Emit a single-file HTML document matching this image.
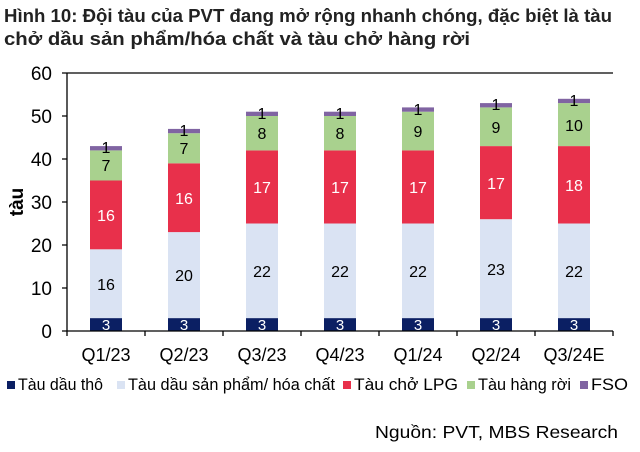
<!DOCTYPE html><html><head><meta charset="utf-8"><style>body{margin:0;background:#fff}svg{display:block;font-family:"Liberation Sans",Arial,sans-serif}</style></head><body>
<svg width="640" height="452" xmlns="http://www.w3.org/2000/svg">
<text x="4" y="22" font-size="18" font-weight="bold" fill="#222" textLength="608" lengthAdjust="spacingAndGlyphs">Hình 10: Đội tàu của PVT đang mở rộng nhanh chóng, đặc biệt là tàu</text>
<text x="4" y="45" font-size="18" font-weight="bold" fill="#222" textLength="466" lengthAdjust="spacingAndGlyphs">chở dầu sản phẩm/hóa chất và tàu chở hàng rời</text>
<g font-size="19" fill="#000" text-anchor="end">
<text x="52" y="338">0</text><text x="52" y="295">10</text><text x="52" y="252">20</text><text x="52" y="209">30</text><text x="52" y="166">40</text><text x="52" y="123">50</text><text x="52" y="80">60</text></g>
<text transform="translate(23,202) rotate(-90)" font-size="19" font-weight="bold" text-anchor="middle">tàu</text>

<g>
<rect x="90" y="318.1" width="32" height="12.9" fill="#0b1f63"/><rect x="90" y="249.3" width="32" height="68.8" fill="#dae3f3"/><rect x="90" y="180.5" width="32" height="68.8" fill="#e8304b"/><rect x="90" y="150.4" width="32" height="30.1" fill="#a9d18e"/><rect x="90" y="146.1" width="32" height="4.3" fill="#8064a2"/>
<rect x="168" y="318.1" width="32" height="12.9" fill="#0b1f63"/><rect x="168" y="232.1" width="32" height="86" fill="#dae3f3"/><rect x="168" y="163.3" width="32" height="68.8" fill="#e8304b"/><rect x="168" y="133.2" width="32" height="30.1" fill="#a9d18e"/><rect x="168" y="128.9" width="32" height="4.3" fill="#8064a2"/>
<rect x="246" y="318.1" width="32" height="12.9" fill="#0b1f63"/><rect x="246" y="223.5" width="32" height="94.6" fill="#dae3f3"/><rect x="246" y="150.4" width="32" height="73.1" fill="#e8304b"/><rect x="246" y="116" width="32" height="34.4" fill="#a9d18e"/><rect x="246" y="111.7" width="32" height="4.3" fill="#8064a2"/>
<rect x="324" y="318.1" width="32" height="12.9" fill="#0b1f63"/><rect x="324" y="223.5" width="32" height="94.6" fill="#dae3f3"/><rect x="324" y="150.4" width="32" height="73.1" fill="#e8304b"/><rect x="324" y="116" width="32" height="34.4" fill="#a9d18e"/><rect x="324" y="111.7" width="32" height="4.3" fill="#8064a2"/>
<rect x="402" y="318.1" width="32" height="12.9" fill="#0b1f63"/><rect x="402" y="223.5" width="32" height="94.6" fill="#dae3f3"/><rect x="402" y="150.4" width="32" height="73.1" fill="#e8304b"/><rect x="402" y="111.7" width="32" height="38.7" fill="#a9d18e"/><rect x="402" y="107.4" width="32" height="4.3" fill="#8064a2"/>
<rect x="480" y="318.1" width="32" height="12.9" fill="#0b1f63"/><rect x="480" y="219.2" width="32" height="98.9" fill="#dae3f3"/><rect x="480" y="146.1" width="32" height="73.1" fill="#e8304b"/><rect x="480" y="107.4" width="32" height="38.7" fill="#a9d18e"/><rect x="480" y="103.1" width="32" height="4.3" fill="#8064a2"/>
<rect x="558" y="318.1" width="32" height="12.9" fill="#0b1f63"/><rect x="558" y="223.5" width="32" height="94.6" fill="#dae3f3"/><rect x="558" y="146.1" width="32" height="77.4" fill="#e8304b"/><rect x="558" y="103.1" width="32" height="43" fill="#a9d18e"/><rect x="558" y="98.8" width="32" height="4.3" fill="#8064a2"/>
</g>
<g font-size="16" text-anchor="middle">
<g fill="#fff" font-size="15"><text x="106" y="330">3</text><text x="184" y="330">3</text><text x="262" y="330">3</text><text x="340" y="330">3</text><text x="418" y="330">3</text><text x="496" y="330">3</text><text x="574" y="330">3</text></g>
<text x="106" y="290">16</text><text x="184" y="281">20</text><text x="262" y="277">22</text><text x="340" y="277">22</text><text x="418" y="277">22</text><text x="496" y="275">23</text><text x="574" y="277">22</text>
<g fill="#fff"><text x="106" y="221">16</text><text x="184" y="204">16</text><text x="262" y="193">17</text><text x="340" y="193">17</text><text x="418" y="193">17</text><text x="496" y="189">17</text><text x="574" y="191">18</text></g>
<text x="106" y="171">7</text><text x="184" y="154">7</text><text x="262" y="139">8</text><text x="340" y="139">8</text><text x="418" y="137">9</text><text x="496" y="133">9</text><text x="574" y="131">10</text>
<text x="106" y="153">1</text><text x="184" y="136">1</text><text x="262" y="119">1</text><text x="340" y="119">1</text><text x="418" y="115">1</text><text x="496" y="110">1</text><text x="574" y="106">1</text>
</g>
<g font-size="18" text-anchor="middle">
<text x="106" y="361">Q1/23</text><text x="184" y="361">Q2/23</text><text x="262" y="361">Q3/23</text><text x="340" y="361">Q4/23</text><text x="418" y="361">Q1/24</text><text x="496" y="361">Q2/24</text><text x="574" y="361">Q3/24E</text>
</g>
<g stroke="#000" stroke-width="1.3" fill="none">
<path d="M67 73V331H613"/><path d="M62 73H613"/>
<path d="M62 331H67M62 288H67M62 245H67M62 202H67M62 159H67M62 116H67"/>
<path d="M145 331v5M223 331v5M301 331v5M379 331v5M457 331v5M535 331v5M613 331v5M67 331v5"/>
</g>
<g font-size="16.5">
<rect x="7" y="381" width="8" height="8" fill="#0b1f63"/><text x="18" y="390" textLength="85" lengthAdjust="spacingAndGlyphs">Tàu dầu thô</text>
<rect x="117" y="381" width="8" height="8" fill="#dae3f3"/><text x="128" y="390" textLength="207" lengthAdjust="spacingAndGlyphs">Tàu dầu sản phẩm/ hóa chất</text>
<rect x="343" y="381" width="8" height="8" fill="#e8304b"/><text x="354" y="390" textLength="104" lengthAdjust="spacingAndGlyphs">Tàu chở LPG</text>
<rect x="467" y="381" width="8" height="8" fill="#a9d18e"/><text x="478" y="390" textLength="93" lengthAdjust="spacingAndGlyphs">Tàu hàng rời</text>
<rect x="580" y="381" width="8" height="8" fill="#8064a2"/><text x="591" y="390" textLength="37" lengthAdjust="spacingAndGlyphs">FSO</text>
</g>
<text x="618" y="438" font-size="17.5" text-anchor="end" textLength="243" lengthAdjust="spacingAndGlyphs">Nguồn: PVT, MBS Research</text>
</svg></body></html>
